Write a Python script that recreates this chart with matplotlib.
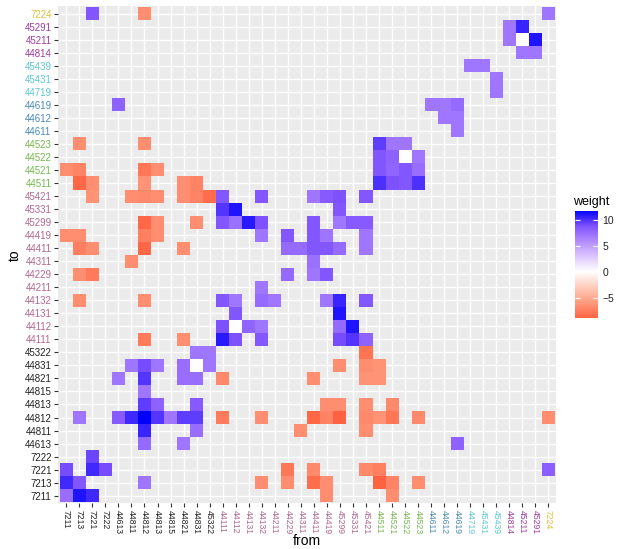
import numpy as np
import matplotlib
matplotlib.use('Agg')
import matplotlib.pyplot as plt
from matplotlib.colors import LinearSegmentedColormap, Normalize

plt.rcParams['font.family'] = ['Liberation Sans', 'DejaVu Sans']

# Category order on both axes (bottom->top, left->right)
codes = ['7211', '7213', '7221', '7222', '44613', '44811', '44812', '44813',
         '44815', '44821', '44831', '45322', '44111', '44112', '44131', '44132',
         '44211', '44229', '44311', '44411', '44419', '45299', '45331', '45421',
         '44511', '44521', '44522', '44523', '44611', '44612', '44619', '44719',
         '45431', '45439', '44814', '45211', '45291', '7224']

# label colour per group
group_sizes = [12, 12, 4, 3, 3, 3, 1]
group_colors = ['#222222', '#B0688F', '#76B84E', '#4A8AB0', '#5CC8D2', '#9E3D9E', '#D9C23A']

# Tiles, one line per "to" row
rows = ['7224', '45291', '45211', '44814', '45439', '45431', '44719', '44619',
        '44612', '44611', '44523', '44522', '44521', '44511', '45421', '45331',
        '45299', '44419', '44411', '44311', '44229', '44211', '44132', '44131',
        '44112', '44111', '45322', '44831', '44821', '44815', '44813', '44812',
        '44811', '44613', '7222', '7221', '7213', '7211']

row_from = [
    ['7221', '44812', '7224'],
    ['44814', '45211'],
    ['44814', '45211', '45291'],
    ['45211', '45291'],
    ['44719', '45431'],
    ['45439'],
    ['45439'],
    ['44613', '44611', '44612', '44619'],
    ['44612', '44619'],
    ['44619'],
    ['7213', '44812', '44511', '44521', '44522'],
    ['44511', '44521', '44522', '44523'],
    ['7211', '7213', '44812', '44813', '44511', '44521', '44522', '44523'],
    ['7213', '7221', '44812', '44821', '44831', '44511', '44521', '44522', '44523'],
    ['7221', '44811', '44812', '44813', '44821', '44831', '45322', '44111', '44132',
     '44411', '44419', '45299', '45421'],
    ['44111', '44112', '45299'],
    ['44812', '44813', '44831', '44111', '44112', '44131', '44132', '44411', '45299',
     '45331', '45421'],
    ['7211', '7213', '44812', '44813', '44132', '44229', '44411', '44419', '45421'],
    ['7213', '7221', '44812', '44821', '44229', '44311', '44411', '44419', '45299', '45421'],
    ['44811', '44411'],
    ['7213', '7221', '44229', '44411', '44419'],
    ['44132'],
    ['7213', '44812', '44111', '44112', '44132', '44211', '44419', '45299', '45421'],
    ['44112', '45299'],
    ['44111', '44112', '44131', '44132', '45299', '45331'],
    ['44812', '44821', '44111', '44112', '44132', '45299', '45331', '45421'],
    ['44831', '45322', '45421'],
    ['44811', '44812', '44813', '44821', '44831', '45322', '45299', '45421', '44511'],
    ['44613', '44812', '44821', '44831', '44111', '44411', '45421', '44511'],
    ['44812'],
    ['44812', '44813', '44831', '44419', '45299', '45421', '44521'],
    ['7213', '44613', '44811', '44812', '44813', '44815', '44821', '44831', '44111',
     '44132', '44411', '44419', '45299', '45421', '44511', '44521', '44523', '7224'],
    ['44812', '44831', '44311', '45421'],
    ['44812', '44821', '44619'],
    ['7221'],
    ['7211', '7221', '7222', '44229', '44411', '45421', '44511', '7224'],
    ['7211', '7213', '44812', '44132', '44229', '44411', '44419', '44511', '44521', '44523'],
    ['7211', '7213', '7221', '44419', '44521'],
]

row_weight = [
    [8.5, -6.8, 7],
    [7, 10.5],
    [7, 0, 11],
    [7, 7],
    [7, 7],
    [7],
    [7],
    [8, 7, 7, 7.5],
    [7, 7],
    [7],
    [-6.8, -6.8, 9.5, 7, 7],
    [8.5, 8, 0, 7],
    [-6.8, -7.3, -8, -6.8, 8.5, 7.8, 8.5, 7.3],
    [-8.8, -6.8, -6.5, -6.8, -7.3, 10, 8.8, 8.5, 10],
    [-6.5, -6.8, -7, -6.8, -6.8, -7.3, -8.5, 8.5, 8.5,
     7, 8.3, 8.8, 8.5],
    [9.8, 11, 8.5],
    [-8.8, -6.8, -6.8, 8.5, 7.2, 10.8, 8.8, 8.5, 7,
     8.3, 8.3],
    [-6.8, -6.8, -7.5, -6.8, 7, 8.5, 8.5, 7, 7],
    [-7.5, -6.8, -8.8, -6.8, 7.5, 7.5, 8.5, 8.5, 7.5, 7],
    [-6.8, 7.2],
    [-6.8, -7.8, 7.5, 7, 8.5],
    [7],
    [-6.8, -6.8, 8.5, 7, 7.5, 7, 7, 10.5, 8.5],
    [8.5, 11],
    [8.8, 0, 7.8, 7, 7.5, 11],
    [-7.8, -6.8, 10.8, 8.8, 8.5, 9, 9.8, 8],
    [7, 7, -8.2],
    [7, 9, 7, 7.3, 0, 7, -6.8, -6.8, -6.5],
    [7, 9.8, 7.3, 7.3, -7, -6.8, -6.5, -6.5],
    [7],
    [9.5, 8, 8.3, -6.8, -6.8, -6.8, -7],
    [7, 8.3, 10.3, 11.8, 9.8, 7, 9.5, 9.5, -7.8,
     -6.8, -8.8, -7.3, -9, -7, -6.5, -8, -7, -6.8],
    [10.5, 7.3, -6.8, -6.8],
    [7.5, 7, 8],
    [9.3],
    [9, 10.3, 9, -8, -7, -7, -7.5, 8.2],
    [10.3, 8.5, 7, -6.8, -6.8, -8.5, -6.8, -9, -7.3, -6.8],
    [7.3, 11, 10.3, -6.8, -6.8],
]

# ggplot-like red / white / blue gradient (Lab-ish anchors)
cmap = LinearSegmentedColormap.from_list('rwb', [
    '#FF0000', '#FF6846', '#FF9E81', '#FFCFBF', '#FFFFFF',
    '#DCC5FF', '#B38BFF', '#7E51FF', '#0000FF'])

all_w = np.concatenate([np.array(w, dtype=float) for w in row_weight])
wmin, wmax = all_w.min(), all_w.max()
lim = max(abs(wmin), abs(wmax))
norm = Normalize(vmin=-lim, vmax=lim)

n = len(codes)
pos = {c: i for i, c in enumerate(codes)}
mat = np.full((n, n), np.nan)
for to, frs, ws in zip(rows, row_from, row_weight):
    for fr, w in zip(frs, ws):
        mat[pos[to], pos[fr]] = w

fig = plt.figure(figsize=(6.29, 5.49), dpi=100)
ax = fig.add_axes([0.093, 0.0829, 0.7913, 0.9065])
ax.set_facecolor('#EBEBEB')
edges = np.arange(n + 1) - 0.5
ax.pcolormesh(edges, edges, np.ma.masked_invalid(mat), cmap=cmap, norm=norm)
ax.set_xlim(-0.6, n - 0.4)
ax.set_ylim(-0.6, n - 0.4)
ax.grid(True, color='white', linewidth=1.0)
ax.set_axisbelow(True)
for s in ax.spines.values():
    s.set_visible(False)

ax.set_xticks(range(n))
ax.set_yticks(range(n))
ax.set_xticklabels(codes, rotation=270, fontsize=6.2, va='top', ha='center')
ax.set_yticklabels(codes, fontsize=7)
ax.tick_params(length=3, width=0.8, color='#333333', pad=2)

label_colors = []
for size, col in zip(group_sizes, group_colors):
    label_colors += [col] * size
for lab, col in zip(ax.get_xticklabels(), label_colors):
    lab.set_color(col)
for lab, col in zip(ax.get_yticklabels(), label_colors):
    lab.set_color(col)

fig.text(307 / 629, 1 - 541 / 549, 'from', ha='center', va='center', fontsize=10)
fig.text(15 / 629, 1 - 255 / 549, 'to', rotation=90, ha='center', va='center', fontsize=10)

# colour bar legend
cax = fig.add_axes([575 / 629, 1 - 318.3 / 549, 23 / 629, 107.6 / 549])
grad = np.linspace(wmin, wmax, 256)
cax.imshow(grad[:, None], aspect='auto', origin='lower', cmap=cmap, norm=norm,
           extent=[0, 1, wmin, wmax])
cb_ticks = [-5, 0, 5, 10]
cax.hlines(cb_ticks, 0, 0.2, colors='white', linewidth=0.8)
cax.hlines(cb_ticks, 0.8, 1, colors='white', linewidth=0.8)
cax.set_xlim(0, 1)
cax.set_ylim(wmin, wmax)
cax.set_xticks([])
cax.yaxis.tick_right()
cax.set_yticks(cb_ticks)
cax.set_yticklabels(['\u22125', '0', '5', '10'], fontsize=7.5, color='#222222')
cax.tick_params(axis='y', length=0, pad=3)
for s in cax.spines.values():
    s.set_visible(False)
fig.text(573 / 629, 1 - 202 / 549, 'weight', ha='left', va='center', fontsize=9)

fig.savefig('out.png', dpi=100)
